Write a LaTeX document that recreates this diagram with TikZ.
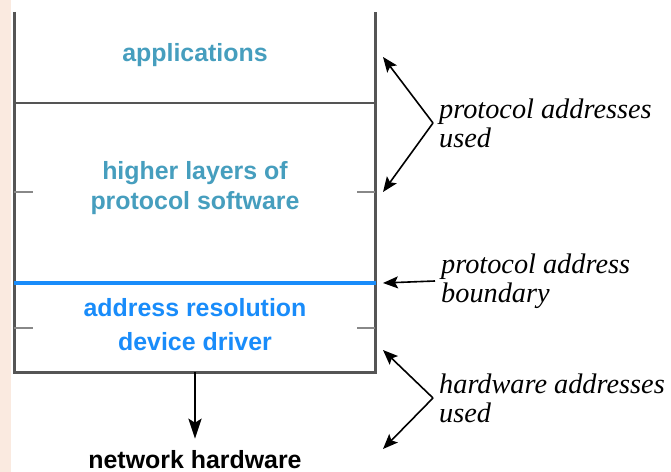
\documentclass[tikz,border=0pt]{standalone}
\usepackage{fontspec}
\setmainfont{Liberation Serif}
\setsansfont{Liberation Sans}
\usetikzlibrary{positioning,arrows.meta}
\definecolor{layerteal}{RGB}{70,158,190}
\definecolor{layerblue}{RGB}{25,140,250}
\definecolor{wallgray}{RGB}{85,85,85}
\definecolor{slidetint}{RGB}{250,234,224}
\tikzset{
  wall/.style={wallgray,line width=3bp},
  tickmark/.style={wallgray!70,line width=1.5bp},
  layertext/.style={font=\sffamily\bfseries\fontsize{25}{30}\selectfont,align=center},
  note/.style={font=\itshape\fontsize{28.4}{29}\selectfont,align=left,anchor=west,inner sep=6bp},
  ptr/.style={-{Stealth[length=15bp,width=12bp,inset=3bp]},line width=1.6bp},
}

\begin{document}
\begin{tikzpicture}[x=1bp,y=-1bp]
  \useasboundingbox (0,0) rectangle (671,472);
  \fill[slidetint] (0,0) rectangle (11,472);
  \fill[white] (11,0) rectangle (671,472);

  % the layer box
  \coordinate (tl) at (14,12);
  \coordinate (tr) at (375,12);
  \coordinate (bl) at (14,372);
  \coordinate (br) at (375,372);
  \coordinate (out) at (195,372);
  \draw[wall] (tl) -- (bl) -- (br) -- (tr);
  \draw[wall,line width=2bp] (14,103) -- (375,103);
  \draw[layerblue,line width=3.5bp] (14,283) -- (376,283);
  \foreach \y in {192,328} {
    \draw[tickmark] (14,\y) -- (33,\y);
    \draw[tickmark] (357,\y) -- (375,\y);
  }

  % layers
  \node[layertext,text=layerteal] (apps) at (195,55) {applications};
  \node[layertext,text=layerteal] (higher) at (195,188) {higher layers of\\protocol software};
  \node[layertext,text=layerblue,font=\sffamily\bfseries\fontsize{25}{34}\selectfont] (arp) at (195,325) {address resolution\\device driver};
  \node[font=\sffamily\bfseries\fontsize{25}{28}\selectfont,anchor=base,inner sep=0pt] (hw) at (195,468) {network hardware};
  \draw[-{Stealth[length=20bp,width=13bp,inset=4bp]},line width=2.8bp,shorten >=11bp] (out) -- (hw);

  % notes on the right
  \coordinate (patop) at (383,57);
  \coordinate (pabot) at (383,192);
  \coordinate (pbtip) at (383,283);
  \coordinate (hatop) at (383,350);
  \coordinate (habot) at (383,449);
  \node[note] (pa) at (433,123) {protocol addresses\\used};
  \node[note] (pb) at (435,281) {protocol address\\boundary};
  \node[note] (ha) at (433,398) {hardware addresses\\used};
  \draw[ptr] (pa.west) -- (patop);
  \draw[ptr] (pa.west) -- (pabot);
  \draw[ptr] (pb.west) -- (pbtip);
  \draw[ptr] (ha.west) -- (hatop);
  \draw[ptr] (ha.west) -- (habot);
\end{tikzpicture}
\end{document}
